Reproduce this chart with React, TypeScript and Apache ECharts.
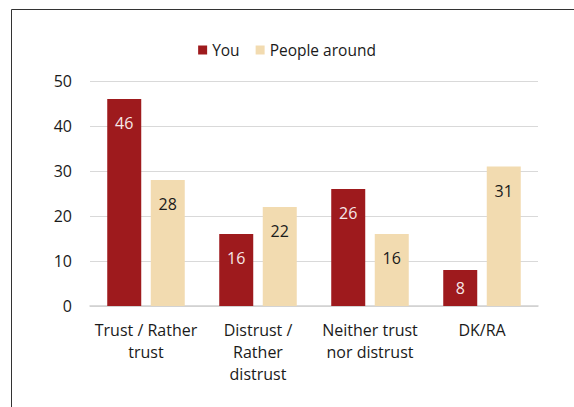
import React, { useEffect, useRef } from "react";
import * as echarts from "echarts";

const categories = ["Trust / Rather\ntrust", "Distrust /\nRather\ndistrust", "Neither trust\nnor distrust", "DK/RA"];
const youValues = [46, 16, 26, 8];
const peopleValues = [28, 22, 16, 31];
const seriesNames = ["You", "People around"];
const FONT = "'Open Sans', 'Noto Sans', sans-serif";

function toData(values: number[]) {
  return values.map((v) => (v < 10 ? { value: v, label: { position: "inside" } } : v));
}

export default function App() {
  const ref = useRef<HTMLDivElement>(null);
  useEffect(() => {
    if (!ref.current) return;
    const chart = echarts.init(ref.current, null, { renderer: "svg" });
    chart.setOption({
      animation: false,
      textStyle: { fontFamily: FONT },
      graphic: [
        { type: "line", shape: { x1: 11.5, y1: 9.5, x2: 574, y2: 9.5 }, style: { stroke: "#333", lineWidth: 1 } },
        { type: "line", shape: { x1: 11.5, y1: 9.5, x2: 11.5, y2: 407 }, style: { stroke: "#333", lineWidth: 1 } },
      ],
      legend: {
        top: 37,
        left: "center",
        itemWidth: 9,
        itemHeight: 9,
        itemGap: 16,
        icon: "rect",
        textStyle: { fontSize: 15.5, color: "#1a1a1a", fontFamily: FONT },
        data: seriesNames,
      },
      grid: { left: 90, right: 36, top: 81, bottom: 101, containLabel: false },
      xAxis: {
        type: "category",
        data: categories,
        axisTick: { show: false },
        axisLine: { lineStyle: { color: "#d0d0d0", width: 1.5 } },
        axisLabel: { fontSize: 16, color: "#1a1a1a", lineHeight: 22, margin: 13, interval: 0, fontFamily: FONT },
      },
      yAxis: {
        type: "value",
        min: 0,
        max: 50,
        interval: 10,
        axisLine: { show: false },
        axisTick: { show: false },
        splitLine: { lineStyle: { color: "#d9d9d9", width: 1 } },
        axisLabel: { fontSize: 16, color: "#1a1a1a", margin: 18, fontFamily: FONT },
      },
      series: [
        {
          name: seriesNames[0],
          type: "bar",
          data: toData(youValues),
          barWidth: 34,
          barGap: "28%",
          itemStyle: { color: "#9e1a1d" },
          label: { show: true, position: "insideTop", distance: 16, color: "#f6e8e8", fontSize: 16, fontFamily: FONT },
        },
        {
          name: seriesNames[1],
          type: "bar",
          data: toData(peopleValues),
          barWidth: 34,
          barGap: "28%",
          itemStyle: { color: "#f2dbb0" },
          label: { show: true, position: "insideTop", distance: 16, color: "#1a1a1a", fontSize: 16, fontFamily: FONT },
        },
      ],
    });
    return () => chart.dispose();
  }, []);
  return <div ref={ref} style={{ position: "absolute", left: 0, top: 0, width: 574, height: 407 }} />;
}
